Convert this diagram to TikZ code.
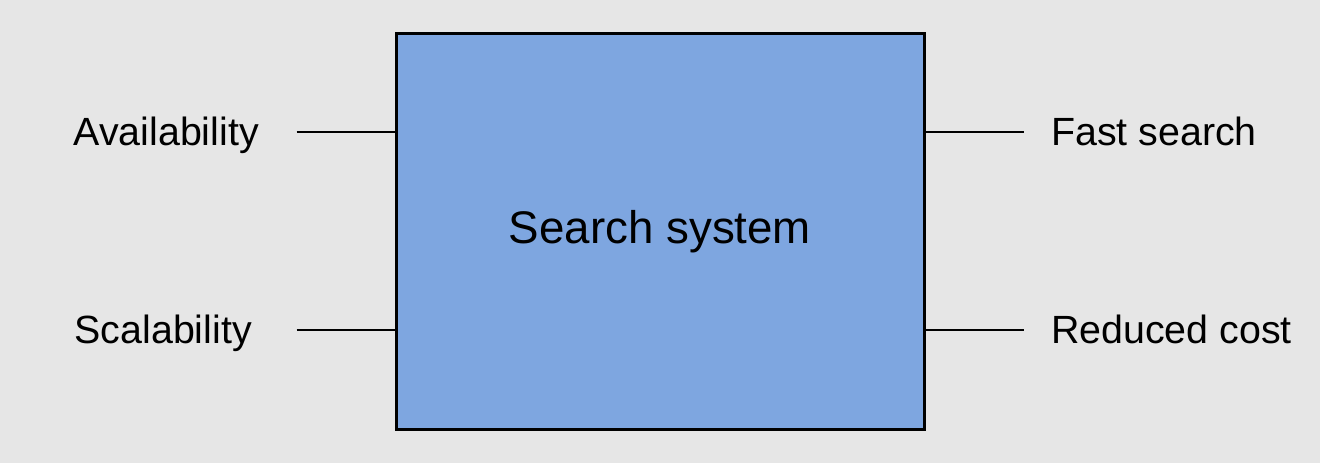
\documentclass[tikz,border=0pt]{standalone}
\usepackage{fontspec}
\setmainfont{Liberation Sans}
\usetikzlibrary{positioning, calc}
\definecolor{pagebg}{HTML}{E6E6E6}
\definecolor{boxfill}{HTML}{7EA6E0}
\begin{document}
\begin{tikzpicture}[
        font=\fontsize{11.2pt}{13pt}\selectfont,
        sys_box/.style={
            rectangle,
            draw=black,
            fill=boxfill,
            line width=0.85pt,
            minimum width=5.28cm,
            minimum height=3.96cm,
            font=\fontsize{13pt}{15pt}\selectfont
        },
        lbl/.style={inner sep=0pt, text=black, text height=1.6ex, text depth=0.45ex, yshift=-0.03cm},
        link/.style={draw=black, line width=0.65pt}
    ]

    % Background
    \fill[pagebg] (0,0) rectangle (13.2,4.63);
    \useasboundingbox (0,0) rectangle (13.2,4.63);

    % Central system
    \node[sys_box] (search) at (6.60,2.31) {\raisebox{-0.03cm}{Search system}};

    % Free ends of the connectors
    \coordinate (in_top) at ($(search.west)+(-0.98,1.0)$);
    \coordinate (in_bot) at ($(search.west)+(-0.98,-0.98)$);
    \coordinate (out_top) at ($(search.east)+(0.98,1.0)$);
    \coordinate (out_bot) at ($(search.east)+(0.98,-0.98)$);

    % Inputs (left)
    \node[lbl, left=0.37cm of in_top] (avail) {Availability};
    \node[lbl, left=0.44cm of in_bot] (scale) {Scalability};

    % Outputs (right)
    \node[lbl, right=0.27cm of out_top] (fast) {Fast search};
    \node[lbl, right=0.27cm of out_bot] (cost) {Reduced cost};

    % Connectors
    \draw[link] (in_top) -- (in_top -| search.west);
    \draw[link] (in_bot) -- (in_bot -| search.west);
    \draw[link] (out_top -| search.east) -- (out_top);
    \draw[link] (out_bot -| search.east) -- (out_bot);

\end{tikzpicture}
\end{document}
